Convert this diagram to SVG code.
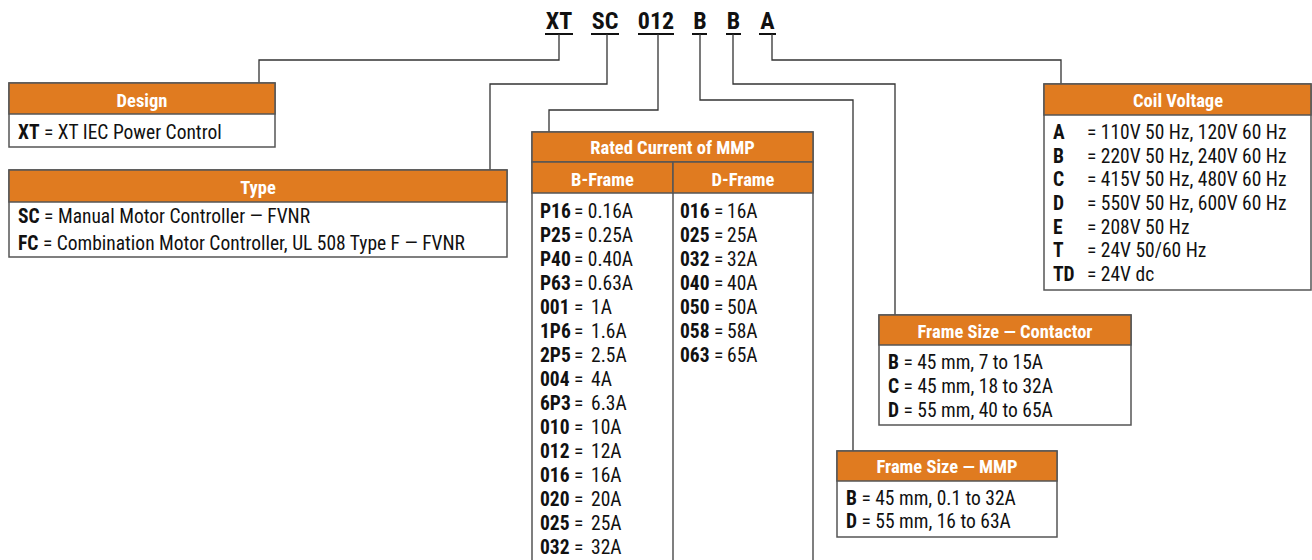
<svg xmlns="http://www.w3.org/2000/svg" width="1312" height="560" viewBox="0 0 1312 560">
<style>
text{font-family:"Liberation Sans Narrow","Roboto Condensed","DejaVu Sans Condensed","Liberation Sans",sans-serif;font-stretch:condensed;fill:#111}
.code{font-size:24px;font-weight:bold;text-anchor:middle}
.ul{stroke:#111;stroke-width:2}
.hdr{fill:#E07B20;stroke:#555;stroke-width:1.5}
.box{fill:#fff;stroke:#555;stroke-width:1.5}
.ht{font-size:18.5px;font-weight:bold;fill:#fff;text-anchor:middle}
.bt{font-size:19.5px}
.b{font-weight:bold}
.conn{fill:none;stroke:#333;stroke-width:1.3}
</style>
<rect width="1312" height="560" fill="#fff"/>
<g id="code">
<text class="code" x="559" y="29">XT</text>
<text class="code" x="605" y="29">SC</text>
<text class="code" x="656" y="29">012</text>
<text class="code" x="700" y="29">B</text>
<text class="code" x="733.5" y="29">B</text>
<text class="code" x="767.5" y="29">A</text>
<line class="ul" x1="545" y1="34" x2="573" y2="34"/>
<line class="ul" x1="591" y1="34" x2="619" y2="34"/>
<line class="ul" x1="638" y1="34" x2="674" y2="34"/>
<line class="ul" x1="692" y1="34" x2="707" y2="34"/>
<line class="ul" x1="726" y1="34" x2="741" y2="34"/>
<line class="ul" x1="759" y1="34" x2="776" y2="34"/>
</g>
<g id="connectors">
<path class="conn" d="M559,34V60H259V83"/>
<path class="conn" d="M607,34V84H490V170"/>
<path class="conn" d="M658,34V110H549V132"/>
<path class="conn" d="M700,34V100H853V451"/>
<path class="conn" d="M733,34V84H895V315"/>
<path class="conn" d="M772,34V60H1061V84"/>
</g>
<g id="design">
<rect class="box" x="9" y="83" width="266" height="64"/>
<rect class="hdr" x="9" y="83" width="266" height="31"/>
<text class="ht" x="142" y="107">Design</text>
<text class="bt" x="18" y="139"><tspan class="b">XT</tspan> = XT IEC Power Control</text>
</g>
<g id="type">
<rect class="box" x="9" y="170" width="498" height="87"/>
<rect class="hdr" x="9" y="170" width="498" height="32"/>
<text class="ht" x="258" y="194">Type</text>
<text class="bt" x="18" y="223"><tspan class="b">SC</tspan> = Manual Motor Controller — FVNR</text>
<text class="bt" x="18" y="250"><tspan class="b">FC</tspan> = Combination Motor Controller, UL 508 Type F — FVNR</text>
</g>
<g id="rated">
<rect class="box" x="532" y="132" width="281" height="440"/>
<rect class="hdr" x="532" y="132" width="281" height="30"/>
<rect class="hdr" x="532" y="162" width="141" height="31"/>
<rect class="hdr" x="673" y="162" width="140" height="31"/>
<line x1="673" y1="193" x2="673" y2="572" stroke="#555" stroke-width="1.5"/>
<text class="ht" x="672.5" y="154">Rated Current of MMP</text>
<text class="ht" x="602.5" y="186">B-Frame</text>
<text class="ht" x="743" y="186">D-Frame</text>
<g class="bt">
<text class="bt b" x="540" y="218">P16</text><text class="bt" x="574" y="218">= 0.16A</text>
<text class="bt b" x="540" y="242">P25</text><text class="bt" x="574" y="242">= 0.25A</text>
<text class="bt b" x="540" y="266">P40</text><text class="bt" x="574" y="266">= 0.40A</text>
<text class="bt b" x="540" y="290">P63</text><text class="bt" x="574" y="290">= 0.63A</text>
<text class="bt b" x="540" y="314">001</text><text class="bt" x="574" y="314">=</text><text class="bt" x="591" y="314">1A</text>
<text class="bt b" x="540" y="338">1P6</text><text class="bt" x="574" y="338">=</text><text class="bt" x="591" y="338">1.6A</text>
<text class="bt b" x="540" y="362">2P5</text><text class="bt" x="574" y="362">=</text><text class="bt" x="591" y="362">2.5A</text>
<text class="bt b" x="540" y="386">004</text><text class="bt" x="574" y="386">=</text><text class="bt" x="591" y="386">4A</text>
<text class="bt b" x="540" y="410">6P3</text><text class="bt" x="574" y="410">=</text><text class="bt" x="591" y="410">6.3A</text>
<text class="bt b" x="540" y="434">010</text><text class="bt" x="574" y="434">=</text><text class="bt" x="591" y="434">10A</text>
<text class="bt b" x="540" y="458">012</text><text class="bt" x="574" y="458">=</text><text class="bt" x="591" y="458">12A</text>
<text class="bt b" x="540" y="482">016</text><text class="bt" x="574" y="482">=</text><text class="bt" x="591" y="482">16A</text>
<text class="bt b" x="540" y="506">020</text><text class="bt" x="574" y="506">=</text><text class="bt" x="591" y="506">20A</text>
<text class="bt b" x="540" y="530">025</text><text class="bt" x="574" y="530">=</text><text class="bt" x="591" y="530">25A</text>
<text class="bt b" x="540" y="554">032</text><text class="bt" x="574" y="554">=</text><text class="bt" x="591" y="554">32A</text>
<text class="bt b" x="680" y="218">016</text><text class="bt" x="714" y="218">=</text><text class="bt" x="727" y="218">16A</text>
<text class="bt b" x="680" y="242">025</text><text class="bt" x="714" y="242">=</text><text class="bt" x="727" y="242">25A</text>
<text class="bt b" x="680" y="266">032</text><text class="bt" x="714" y="266">=</text><text class="bt" x="727" y="266">32A</text>
<text class="bt b" x="680" y="290">040</text><text class="bt" x="714" y="290">=</text><text class="bt" x="727" y="290">40A</text>
<text class="bt b" x="680" y="314">050</text><text class="bt" x="714" y="314">=</text><text class="bt" x="727" y="314">50A</text>
<text class="bt b" x="680" y="338">058</text><text class="bt" x="714" y="338">=</text><text class="bt" x="727" y="338">58A</text>
<text class="bt b" x="680" y="362">063</text><text class="bt" x="714" y="362">=</text><text class="bt" x="727" y="362">65A</text>
</g>
</g>
<g id="coil">
<rect class="box" x="1044" y="84" width="267" height="206"/>
<rect class="hdr" x="1044" y="84" width="267" height="31"/>
<text class="ht" x="1178" y="107">Coil Voltage</text>
<text class="bt b" x="1053" y="139">A</text><text class="bt" x="1087" y="139">= 110V 50 Hz, 120V 60 Hz</text>
<text class="bt b" x="1053" y="163">B</text><text class="bt" x="1087" y="163">= 220V 50 Hz, 240V 60 Hz</text>
<text class="bt b" x="1053" y="186">C</text><text class="bt" x="1087" y="186">= 415V 50 Hz, 480V 60 Hz</text>
<text class="bt b" x="1053" y="210">D</text><text class="bt" x="1087" y="210">= 550V 50 Hz, 600V 60 Hz</text>
<text class="bt b" x="1053" y="234">E</text><text class="bt" x="1087" y="234">= 208V 50 Hz</text>
<text class="bt b" x="1053" y="257">T</text><text class="bt" x="1087" y="257">= 24V 50/60 Hz</text>
<text class="bt b" x="1053" y="281">TD</text><text class="bt" x="1087" y="281">= 24V dc</text>
</g>
<g id="contactor">
<rect class="box" x="879" y="315" width="252" height="110"/>
<rect class="hdr" x="879" y="315" width="252" height="30"/>
<text class="ht" x="1005" y="338">Frame Size — Contactor</text>
<text class="bt" x="888" y="369"><tspan class="b">B</tspan> = 45 mm, 7 to 15A</text>
<text class="bt" x="888" y="393"><tspan class="b">C</tspan> = 45 mm, 18 to 32A</text>
<text class="bt" x="888" y="417"><tspan class="b">D</tspan> = 55 mm, 40 to 65A</text>
</g>
<g id="mmp">
<rect class="box" x="837" y="451" width="220" height="86"/>
<rect class="hdr" x="837" y="451" width="220" height="30"/>
<text class="ht" x="947" y="473">Frame Size — MMP</text>
<text class="bt" x="846" y="505"><tspan class="b">B</tspan> = 45 mm, 0.1 to 32A</text>
<text class="bt" x="846" y="528"><tspan class="b">D</tspan> = 55 mm, 16 to 63A</text>
</g>
</svg>
